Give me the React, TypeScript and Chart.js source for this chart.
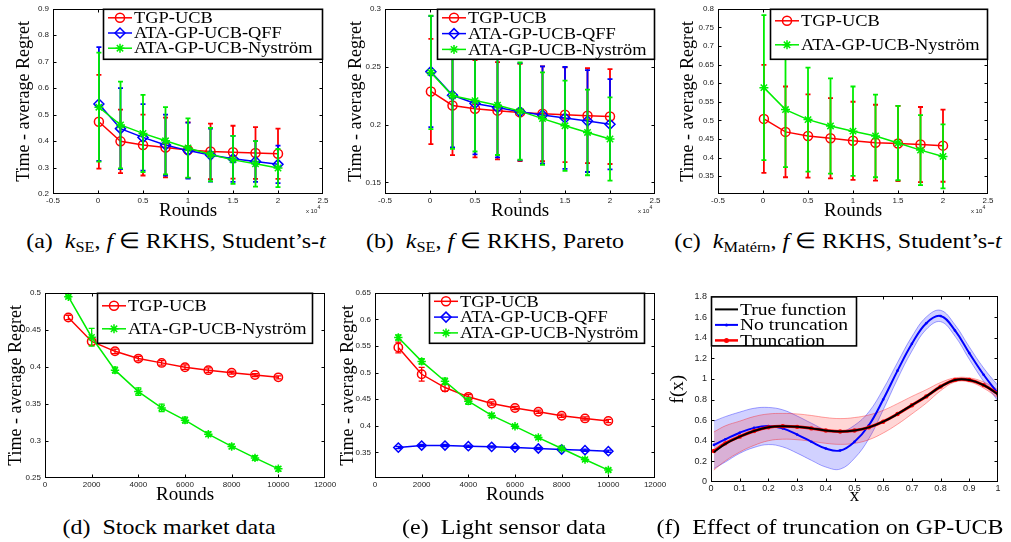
import React, { useEffect, useRef } from "react";
import { Chart, registerables } from "chart.js";

Chart.register(...registerables);

// ================= DATA =================
// Rounds (x 10^4) for panels a, b, c
const roundsK = [0.01, 0.25, 0.5, 0.75, 1.0, 1.25, 1.5, 1.75, 2.0];
const roundsKTicks = [-0.5, 0, 0.5, 1, 1.5, 2, 2.5];

// (a) k_SE, Student's-t
const aYTicks = [0.2, 0.3, 0.4, 0.5, 0.6, 0.7, 0.8, 0.9];
const aTgp = [0.473, 0.399, 0.385, 0.376, 0.366, 0.361, 0.358, 0.355, 0.352];
const aTgpErr = [0.177, 0.12, 0.115, 0.113, 0.105, 0.105, 0.1, 0.098, 0.095];
const aQff = [0.54, 0.447, 0.414, 0.385, 0.364, 0.347, 0.333, 0.323, 0.312];
const aQffErr = [0.215, 0.153, 0.126, 0.115, 0.106, 0.1, 0.087, 0.077, 0.071];
const aNys = [0.528, 0.461, 0.429, 0.401, 0.374, 0.349, 0.329, 0.314, 0.298];
const aNysErr = [0.206, 0.164, 0.146, 0.127, 0.112, 0.101, 0.091, 0.086, 0.072];

// (b) k_SE, Pareto
const bYTicks = [0.15, 0.2, 0.25, 0.3];
const bTgp = [0.2286, 0.2165, 0.2136, 0.212, 0.2105, 0.2093, 0.2085, 0.2077, 0.2069];
const bTgpErr = [0.0455, 0.043, 0.042, 0.042, 0.042, 0.041, 0.041, 0.041, 0.041];
const bQff = [0.2457, 0.2253, 0.2182, 0.2147, 0.211, 0.2082, 0.2057, 0.203, 0.2003];
const bQffErr = [0.048, 0.045, 0.044, 0.043, 0.042, 0.042, 0.044, 0.044, 0.039];
const bNys = [0.245, 0.2249, 0.2207, 0.2167, 0.2116, 0.2051, 0.1989, 0.1932, 0.1875];
const bNysErr = [0.049, 0.046, 0.044, 0.043, 0.042, 0.04, 0.039, 0.037, 0.036];

// (c) k_Matern, Student's-t
const cYTicks = [0.35, 0.4, 0.45, 0.5, 0.55, 0.6, 0.65, 0.7, 0.75, 0.8];
const cTgp = [0.504, 0.469, 0.458, 0.452, 0.445, 0.44, 0.438, 0.435, 0.432];
const cTgpErr = [0.145, 0.122, 0.112, 0.108, 0.105, 0.102, 0.101, 0.101, 0.097];
const cNys = [0.588, 0.529, 0.502, 0.485, 0.471, 0.458, 0.439, 0.42, 0.403];
const cNysErr = [0.195, 0.155, 0.14, 0.128, 0.12, 0.111, 0.1, 0.094, 0.086];

// Rounds for panels d, e
const rounds = [1000, 2000, 3000, 4000, 5000, 6000, 7000, 8000, 9000, 10000];
const roundsTicks = [0, 2000, 4000, 6000, 8000, 10000, 12000];

// (d) Stock market data
const dYTicks = [0.25, 0.3, 0.35, 0.4, 0.45, 0.5];
const dTgp = [0.4667, 0.4343, 0.421, 0.4112, 0.4054, 0.3996, 0.3956, 0.3921, 0.389, 0.3859];
const dTgpErr = [0.003, 0.005, 0.003, 0.003, 0.003, 0.003, 0.003, 0.002, 0.002, 0.002];
const dNys = [0.4947, 0.44, 0.3956, 0.3667, 0.3446, 0.3281, 0.3091, 0.2926, 0.2771, 0.2624];
const dNysErr = [0.002, 0.012, 0.004, 0.005, 0.005, 0.004, 0.003, 0.003, 0.003, 0.003];

// (e) Light sensor data
const eYTicks = [0.35, 0.4, 0.45, 0.5, 0.55, 0.6, 0.65];
const eTgp = [0.5473, 0.4969, 0.472, 0.4545, 0.442, 0.4334, 0.4265, 0.419, 0.414, 0.409];
const eTgpErr = [0.01, 0.013, 0.007, 0.004, 0.003, 0.003, 0.003, 0.003, 0.003, 0.003];
const eQff = [0.3592, 0.363, 0.363, 0.3618, 0.3605, 0.3592, 0.3574, 0.3555, 0.3543, 0.3524];
const eQffErr = [0.002, 0.002, 0.002, 0.002, 0.002, 0.002, 0.002, 0.002, 0.002, 0.002];
const eNys = [0.5659, 0.5211, 0.4837, 0.4464, 0.4196, 0.3991, 0.378, 0.3574, 0.3368, 0.3169];
const eNysErr = [0.005, 0.005, 0.006, 0.006, 0.004, 0.003, 0.003, 0.003, 0.003, 0.003];

// (f) Effect of truncation
const fX = [0.01, 0.05, 0.1, 0.15, 0.2, 0.25, 0.3, 0.35, 0.4, 0.45, 0.5, 0.55, 0.6, 0.65, 0.7, 0.75, 0.8, 0.85, 0.9, 0.95, 1.0];
const fXTicks = [0, 0.1, 0.2, 0.3, 0.4, 0.5, 0.6, 0.7, 0.8, 0.9, 1];
const fYTicks = [0, 0.2, 0.4, 0.6, 0.8, 1, 1.2, 1.4, 1.6, 1.8];
const fTrue = [0.29, 0.37, 0.44, 0.495, 0.53, 0.54, 0.535, 0.52, 0.5, 0.49, 0.5, 0.53, 0.585, 0.66, 0.745, 0.83, 0.925, 0.99, 0.99, 0.94, 0.85];
const fTrunc = [0.3, 0.375, 0.44, 0.495, 0.53, 0.54, 0.535, 0.52, 0.5, 0.49, 0.5, 0.53, 0.585, 0.66, 0.745, 0.83, 0.925, 0.99, 0.99, 0.94, 0.855];
const fTruncLo = [0.115, 0.205, 0.29, 0.355, 0.4, 0.415, 0.41, 0.395, 0.375, 0.365, 0.375, 0.41, 0.475, 0.56, 0.66, 0.765, 0.885, 0.97, 0.97, 0.91, 0.815];
const fTruncHi = [0.485, 0.545, 0.59, 0.635, 0.66, 0.665, 0.66, 0.645, 0.625, 0.615, 0.625, 0.65, 0.695, 0.76, 0.83, 0.895, 0.965, 1.01, 1.01, 0.97, 0.895];
const fNoTrunc = [0.36, 0.414, 0.478, 0.525, 0.543, 0.52, 0.46, 0.39, 0.325, 0.305, 0.39, 0.55, 0.8, 1.08, 1.34, 1.54, 1.61, 1.47, 1.25, 1.04, 0.86];
const fNoTruncLo = [0.13, 0.194, 0.278, 0.335, 0.363, 0.34, 0.28, 0.21, 0.145, 0.125, 0.23, 0.42, 0.7, 1.0, 1.27, 1.48, 1.555, 1.415, 1.19, 0.975, 0.785];
const fNoTruncHi = [0.59, 0.634, 0.678, 0.715, 0.723, 0.7, 0.64, 0.57, 0.505, 0.485, 0.55, 0.68, 0.9, 1.16, 1.41, 1.6, 1.665, 1.525, 1.31, 1.105, 0.935];

// ================= STYLE / LAYOUT =================
const YW = 46, PT = 6, PR = 16, XH = 32;
const SERIF = '"Liberation Serif", "Times New Roman", serif';
const SANS = '"Liberation Sans", Arial, sans-serif';
const RED = "#ff0000", BLUE = "#0000ff", GREEN = "#00ee00";

type Item = { label: string; color: string; marker: string; r: number; lw: number };
const TGP: Item = { label: "TGP-UCB", color: RED, marker: "circle", r: 4.5, lw: 1.5 };
const QFF: Item = { label: "ATA-GP-UCB-QFF", color: BLUE, marker: "rectRot", r: 5, lw: 1.5 };
const NYS: Item = { label: "ATA-GP-UCB-Nyström", color: GREEN, marker: "star", r: 4.5, lw: 1.5 };

function pts(xs: number[], ys: number[]) {
  return xs.map((x, i) => ({ x, y: ys[i] }));
}

function errSeries(it: Item, xs: number[], ys: number[], errs: number[], order: number, errW: number, cap: number, r?: number) {
  const open = it.marker === "circle" || it.marker === "rectRot";
  return {
    label: it.label,
    data: pts(xs, ys),
    errors: errs,
    errW,
    errCap: cap,
    borderColor: it.color,
    backgroundColor: it.color,
    borderWidth: it.lw,
    pointStyle: it.marker,
    pointRadius: r ?? it.r,
    pointBorderWidth: 1.5,
    pointBorderColor: it.color,
    pointBackgroundColor: open ? "rgba(0,0,0,0)" : it.color,
    fill: false,
    tension: 0,
    order,
  };
}

function drawMarker(ctx: CanvasRenderingContext2D, marker: string, x: number, y: number, r: number, color: string) {
  ctx.save();
  ctx.strokeStyle = color;
  ctx.fillStyle = color;
  ctx.lineWidth = 1.5;
  ctx.beginPath();
  if (marker === "circle") {
    ctx.arc(x, y, r, 0, Math.PI * 2);
    ctx.stroke();
  } else if (marker === "rectRot") {
    ctx.moveTo(x - r, y);
    ctx.lineTo(x, y - r);
    ctx.lineTo(x + r, y);
    ctx.lineTo(x, y + r);
    ctx.closePath();
    ctx.stroke();
  } else if (marker === "star") {
    for (let k = 0; k < 4; k++) {
      const a = (k * Math.PI) / 4;
      ctx.moveTo(x - Math.cos(a) * r, y - Math.sin(a) * r);
      ctx.lineTo(x + Math.cos(a) * r, y + Math.sin(a) * r);
    }
    ctx.stroke();
  } else if (marker === "dot") {
    ctx.arc(x, y, r, 0, Math.PI * 2);
    ctx.fill();
  }
  ctx.restore();
}

type LegendSpec = {
  x: number; y: number; w: number; h: number;
  rowStart: number; rowGap: number; fontSize: number; sx: number;
  lineX0: number; lineX1: number; textX: number; items: Item[];
};

type PanelSpec = {
  geom: { L: number; T: number; R: number; B: number };
  datasets: any[];
  xMin: number; xMax: number; xTicks: number[];
  yMin: number; yMax: number; yTicks: number[];
  xTitle: string; yTitle: string;
  xTitleDy: number; yTitleDx: number; yTitleSize: number;
  tickFont: number; xTickPad: number;
  legend: LegendSpec;
  exponent: boolean;
};

function makePlugin(spec: PanelSpec) {
  return {
    id: "panelDecor",
    beforeDatasetDraw(chart: any, args: any) {
      const ds: any = chart.data.datasets[args.index];
      if (!ds.errors) return;
      const { ctx, chartArea } = chart;
      const xs = chart.scales.x, ys = chart.scales.y;
      ctx.save();
      ctx.beginPath();
      ctx.rect(chartArea.left, chartArea.top, chartArea.right - chartArea.left, chartArea.bottom - chartArea.top);
      ctx.clip();
      ctx.strokeStyle = ds.borderColor;
      ctx.lineWidth = ds.errW;
      ctx.beginPath();
      ds.data.forEach((p: any, i: number) => {
        const e = ds.errors[i];
        const px = xs.getPixelForValue(p.x);
        const t = ys.getPixelForValue(p.y + e);
        const b = ys.getPixelForValue(p.y - e);
        ctx.moveTo(px, t); ctx.lineTo(px, b);
        ctx.moveTo(px - ds.errCap, t); ctx.lineTo(px + ds.errCap, t);
        ctx.moveTo(px - ds.errCap, b); ctx.lineTo(px + ds.errCap, b);
      });
      ctx.stroke();
      ctx.restore();
    },
    afterDatasetsDraw(chart: any) {
      const { ctx, chartArea } = chart;
      const { left, top, right, bottom } = chartArea;
      const xs = chart.scales.x, ys = chart.scales.y;
      ctx.save();
      // axes box
      ctx.strokeStyle = "#000";
      ctx.lineWidth = 1;
      const l = Math.round(left) + 0.5, t = Math.round(top) + 0.5;
      const r = Math.round(right) - 0.5, b = Math.round(bottom) - 0.5;
      ctx.strokeRect(l, t, r - l, b - t);
      // inward ticks
      const TL = 3;
      ctx.beginPath();
      spec.xTicks.forEach((v) => {
        const px = Math.round(xs.getPixelForValue(v)) + 0.5;
        if (px <= l + 1 || px >= r - 1) return;
        ctx.moveTo(px, b); ctx.lineTo(px, b - TL);
        ctx.moveTo(px, t); ctx.lineTo(px, t + TL);
      });
      spec.yTicks.forEach((v) => {
        const py = Math.round(ys.getPixelForValue(v)) + 0.5;
        if (py <= t + 1 || py >= b - 1) return;
        ctx.moveTo(l, py); ctx.lineTo(l + TL, py);
        ctx.moveTo(r, py); ctx.lineTo(r - TL, py);
      });
      ctx.stroke();
      // exponent label
      if (spec.exponent) {
        ctx.fillStyle = "#222";
        ctx.font = `6px ${SANS}`;
        ctx.textBaseline = "middle";
        ctx.textAlign = "left";
        const w1 = ctx.measureText("x 10").width;
        ctx.font = `5px ${SANS}`;
        const w2 = ctx.measureText("4").width;
        const x0 = right - 3 - w1 - w2;
        ctx.font = `6px ${SANS}`;
        ctx.fillText("x 10", x0, bottom + 17);
        ctx.font = `5px ${SANS}`;
        ctx.fillText("4", x0 + w1 + 0.3, bottom + 14);
      }
      // legend
      const lg = spec.legend;
      const bx = left + lg.x, by = top + lg.y;
      ctx.fillStyle = "#fff";
      ctx.fillRect(bx, by, lg.w, lg.h);
      ctx.strokeStyle = "#000";
      ctx.lineWidth = 1.6;
      ctx.strokeRect(bx + 0.5, by + 0.5, lg.w - 1, lg.h - 1);
      lg.items.forEach((it, i) => {
        const cy = by + lg.rowStart + i * lg.rowGap;
        ctx.strokeStyle = it.color;
        ctx.lineWidth = it.lw;
        ctx.beginPath();
        ctx.moveTo(bx + lg.lineX0, cy);
        ctx.lineTo(bx + lg.lineX1, cy);
        ctx.stroke();
        if (it.marker !== "none") drawMarker(ctx, it.marker, bx + (lg.lineX0 + lg.lineX1) / 2, cy, it.r, it.color);
        ctx.save();
        ctx.fillStyle = "#000";
        ctx.font = `${lg.fontSize}px ${SERIF}`;
        ctx.textBaseline = "middle";
        ctx.textAlign = "left";
        ctx.translate(bx + lg.textX, cy + 1);
        ctx.scale(lg.sx, 1);
        ctx.fillText(it.label, 0, 0);
        ctx.restore();
      });
      ctx.restore();
    },
  };
}

function buildConfig(spec: PanelSpec): any {
  const tickFont = { family: SANS, size: spec.tickFont };
  const xLh = 19 * 1.2, yLh = spec.yTitleSize * 1.2;
  return {
    type: "line",
    data: { datasets: spec.datasets },
    options: {
      animation: false,
      responsive: false,
      events: [],
      layout: { padding: { left: 0, top: PT, right: PR, bottom: 0 } },
      plugins: { legend: { display: false }, tooltip: { enabled: false }, title: { display: false } },
      scales: {
        x: {
          type: "linear",
          min: spec.xMin,
          max: spec.xMax,
          grid: { display: false, drawTicks: false },
          border: { display: false },
          ticks: {
            font: tickFont, color: "#222", padding: spec.xTickPad, autoSkip: false,
            maxRotation: 0, minRotation: 0, callback: (v: number) => String(v),
          },
          afterBuildTicks: (s: any) => { s.ticks = spec.xTicks.map((v) => ({ value: v })); },
          afterFit: (s: any) => { s.height = XH; },
          title: {
            display: true, text: spec.xTitle, color: "#000",
            font: { family: SERIF, size: 19 },
            padding: { top: 0, bottom: XH - spec.xTitleDy - xLh / 2 },
          },
        },
        y: {
          type: "linear",
          min: spec.yMin,
          max: spec.yMax,
          grid: { display: false, drawTicks: false },
          border: { display: false },
          ticks: { font: tickFont, color: "#222", padding: 4, autoSkip: false, callback: (v: number) => String(v) },
          afterBuildTicks: (s: any) => { s.ticks = spec.yTicks.map((v) => ({ value: v })); },
          afterFit: (s: any) => { s.width = YW; },
          title: {
            display: true, text: spec.yTitle, color: "#000",
            font: { family: SERIF, size: spec.yTitleSize },
            padding: { top: YW - spec.yTitleDx - yLh / 2, bottom: 0 },
          },
        },
      },
    },
    plugins: [makePlugin(spec)],
  };
}

const legendBig = (x: number, w: number, rowStart: number, rowGap: number, items: Item[]): LegendSpec => ({
  x, y: 0, w, h: 51, rowStart, rowGap, fontSize: 16, sx: 1.15, lineX0: 5, lineX1: 29, textX: 31, items,
});

const TR = "Time - average Regret";

const panels: PanelSpec[] = [
  {
    geom: { L: 53, T: 6, R: 323, B: 194 },
    datasets: [
      errSeries(TGP, roundsK, aTgp, aTgpErr, 3, 1.8, 2.5),
      errSeries(QFF, roundsK, aQff, aQffErr, 2, 1.8, 2.5),
      errSeries(NYS, roundsK, aNys, aNysErr, 1, 1.8, 2.5),
    ],
    xMin: -0.5, xMax: 2.5, xTicks: roundsKTicks, yMin: 0.2, yMax: 0.9, yTicks: aYTicks,
    xTitle: "Rounds", yTitle: TR, xTitleDy: 17, yTitleDx: 29, yTitleSize: 18, tickFont: 8, xTickPad: 2,
    legend: legendBig(50, 220, 9, 15.2, [TGP, QFF, NYS]),
    exponent: true,
  },
  {
    geom: { L: 385, T: 6, R: 655, B: 194 },
    datasets: [
      errSeries(TGP, roundsK, bTgp, bTgpErr, 3, 1.8, 2.5),
      errSeries(QFF, roundsK, bQff, bQffErr, 2, 1.8, 2.5),
      errSeries(NYS, roundsK, bNys, bNysErr, 1, 1.8, 2.5),
    ],
    xMin: -0.5, xMax: 2.5, xTicks: roundsKTicks, yMin: 0.14, yMax: 0.3, yTicks: bYTicks,
    xTitle: "Rounds", yTitle: TR, xTitleDy: 17, yTitleDx: 29, yTitleSize: 18, tickFont: 8, xTickPad: 2,
    legend: legendBig(52, 218, 9, 15.8, [TGP, QFF, NYS]),
    exponent: true,
  },
  {
    geom: { L: 718, T: 6, R: 988, B: 194 },
    datasets: [
      errSeries(TGP, roundsK, cTgp, cTgpErr, 2, 1.8, 2.5),
      errSeries(NYS, roundsK, cNys, cNysErr, 1, 1.8, 2.5),
    ],
    xMin: -0.5, xMax: 2.5, xTicks: roundsKTicks, yMin: 0.302, yMax: 0.8, yTicks: cYTicks,
    xTitle: "Rounds", yTitle: TR, xTitleDy: 17, yTitleDx: 30, yTitleSize: 18, tickFont: 8, xTickPad: 2,
    legend: legendBig(52, 218, 12, 24, [TGP, NYS]),
    exponent: true,
  },
  {
    geom: { L: 45, T: 290, R: 325, B: 478 },
    datasets: [
      errSeries(TGP, rounds, dTgp, dTgpErr, 2, 1.3, 3, 4.2),
      errSeries(NYS, rounds, dNys, dNysErr, 1, 1.3, 3, 4.2),
    ],
    xMin: 0, xMax: 12000, xTicks: roundsTicks, yMin: 0.25, yMax: 0.5, yTicks: dYTicks,
    xTitle: "Rounds", yTitle: TR, xTitleDy: 17, yTitleDx: 29, yTitleSize: 18, tickFont: 8, xTickPad: 2,
    legend: legendBig(52, 216, 13, 23, [TGP, NYS]),
    exponent: false,
  },
  {
    geom: { L: 375, T: 290, R: 655, B: 478 },
    datasets: [
      errSeries(TGP, rounds, eTgp, eTgpErr, 3, 1.3, 3, 4.2),
      errSeries(QFF, rounds, eQff, eQffErr, 2, 1.3, 3, 4.6),
      errSeries(NYS, rounds, eNys, eNysErr, 1, 1.3, 3, 4.2),
    ],
    xMin: 0, xMax: 12000, xTicks: roundsTicks, yMin: 0.302, yMax: 0.65, yTicks: eYTicks,
    xTitle: "Rounds", yTitle: TR, xTitleDy: 17, yTitleDx: 27, yTitleSize: 18, tickFont: 8, xTickPad: 2,
    legend: legendBig(54, 216, 8.5, 15.8, [TGP, QFF, NYS]),
    exponent: false,
  },
  {
    geom: { L: 711, T: 293, R: 998, B: 482 },
    datasets: [
      { label: "ntLo", data: pts(fX, fNoTruncLo), borderColor: "rgba(0,0,255,0.45)", borderWidth: 0.8, pointRadius: 0, fill: false, tension: 0.4, order: 7 },
      { label: "ntHi", data: pts(fX, fNoTruncHi), borderColor: "rgba(0,0,255,0.45)", borderWidth: 0.8, pointRadius: 0, fill: "-1", backgroundColor: "rgba(0,0,255,0.18)", tension: 0.4, order: 6 },
      { label: "trLo", data: pts(fX, fTruncLo), borderColor: "rgba(255,0,0,0.45)", borderWidth: 0.8, pointRadius: 0, fill: false, tension: 0.4, order: 5 },
      { label: "trHi", data: pts(fX, fTruncHi), borderColor: "rgba(255,0,0,0.45)", borderWidth: 0.8, pointRadius: 0, fill: "-1", backgroundColor: "rgba(255,0,0,0.16)", tension: 0.4, order: 4 },
      { label: "No truncation", data: pts(fX, fNoTrunc), borderColor: BLUE, backgroundColor: BLUE, borderWidth: 2, pointRadius: 1.3, pointBorderWidth: 0, pointBackgroundColor: BLUE, fill: false, tension: 0.4, order: 3 },
      { label: "Truncation", data: pts(fX, fTrunc), borderColor: RED, backgroundColor: RED, borderWidth: 3, pointRadius: 2.2, pointBorderWidth: 0, pointBackgroundColor: RED, fill: false, tension: 0.4, order: 2 },
      { label: "True function", data: pts(fX, fTrue), borderColor: "#000", borderWidth: 2, pointRadius: 0, fill: false, tension: 0.4, order: 1 },
    ],
    xMin: 0, xMax: 1, xTicks: fXTicks, yMin: 0, yMax: 1.8, yTicks: fYTicks,
    xTitle: "x", yTitle: "f(x)", xTitleDy: 14, yTitleDx: 33, yTitleSize: 19, tickFont: 9, xTickPad: 1,
    legend: {
      x: 0, y: 0, w: 146, h: 50, rowStart: 13, rowGap: 15.5, fontSize: 17, sx: 1.15,
      lineX0: 4, lineX1: 27, textX: 29,
      items: [
        { label: "True function", color: "#000", marker: "none", r: 0, lw: 2 },
        { label: "No truncation", color: BLUE, marker: "dot", r: 1.5, lw: 2 },
        { label: "Truncation", color: RED, marker: "dot", r: 2.5, lw: 2.5 },
      ],
    },
    exponent: false,
  },
];

function Panel({ spec }: { spec: PanelSpec }) {
  const ref = useRef<HTMLCanvasElement>(null);
  useEffect(() => {
    const chart = new Chart(ref.current as HTMLCanvasElement, buildConfig(spec));
    return () => chart.destroy();
  }, [spec]);
  const g = spec.geom;
  const w = YW + (g.R - g.L) + PR;
  const h = PT + (g.B - g.T) + XH;
  return (
    <canvas
      ref={ref}
      width={w}
      height={h}
      style={{ position: "absolute", left: g.L - YW, top: g.T - PT, width: w, height: h }}
    />
  );
}

const subStyle: React.CSSProperties = { fontSize: "0.68em", verticalAlign: "-0.3em", lineHeight: 0 };

function Cap({ cx, cy, children }: { cx: number; cy: number; children: React.ReactNode }) {
  return (
    <div
      style={{
        position: "absolute", left: cx, top: cy,
        transform: "translate(-50%, -50%) scaleX(1.09)",
        fontFamily: SERIF, fontSize: 22, lineHeight: "24px", whiteSpace: "nowrap", color: "#000",
      }}
    >
      {children}
    </div>
  );
}

export default function App() {
  return (
    <div style={{ position: "absolute", left: 0, top: 0, width: 1011, height: 542, background: "#fff", overflow: "hidden" }}>
      {panels.map((p, i) => (
        <Panel key={i} spec={p} />
      ))}
      <Cap cx={176} cy={241}>
        (a)&nbsp; <i>k</i><sub style={subStyle}>SE</sub>, <i>f</i> ∈ RKHS, Student’s-<i>t</i>
      </Cap>
      <Cap cx={495} cy={241}>
        (b)&nbsp; <i>k</i><sub style={subStyle}>SE</sub>, <i>f</i> ∈ RKHS, Pareto
      </Cap>
      <Cap cx={838} cy={241}>
        (c)&nbsp; <i>k</i><sub style={subStyle}>Matérn</sub>, <i>f</i> ∈ RKHS, Student’s-<i>t</i>
      </Cap>
      <Cap cx={169} cy={527}>(d)&nbsp; Stock market data</Cap>
      <Cap cx={504} cy={527}>(e)&nbsp; Light sensor data</Cap>
      <Cap cx={830} cy={527}>(f)&nbsp; Effect of truncation on GP-UCB</Cap>
    </div>
  );
}
